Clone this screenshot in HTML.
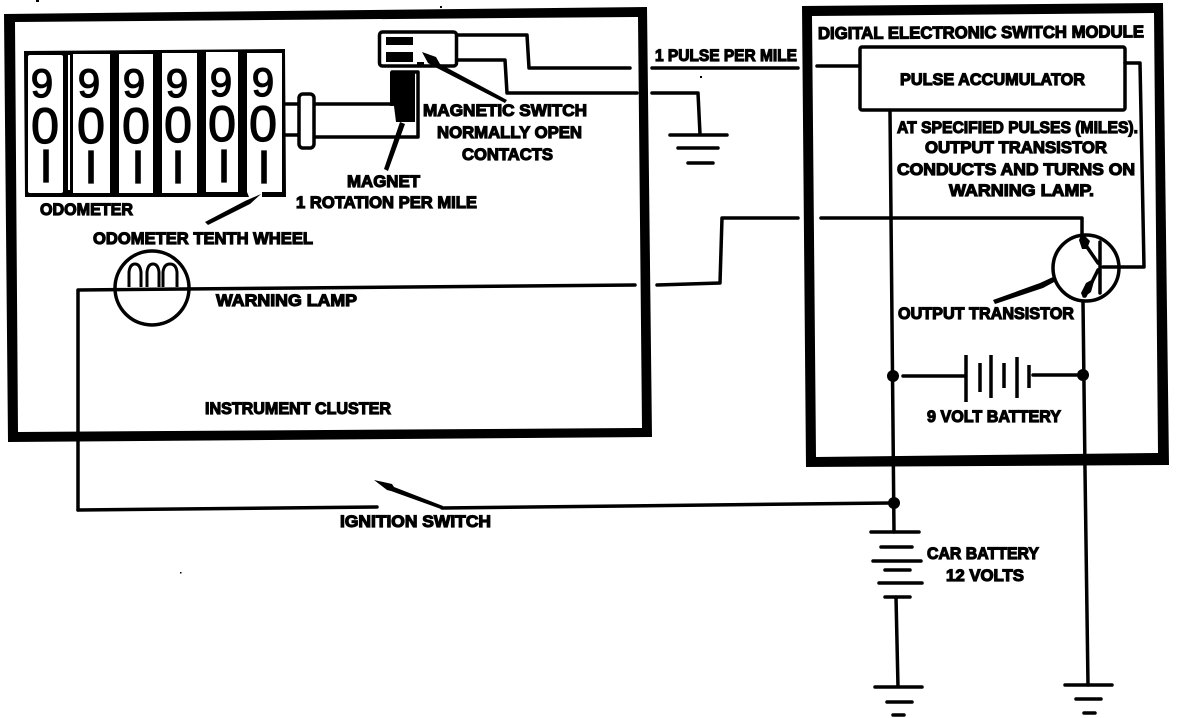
<!DOCTYPE html>
<html><head><meta charset="utf-8"><title>Digital odometer warning circuit</title>
<style>
html,body{margin:0;padding:0;background:#fff}
svg{display:block}
text{font-family:"Liberation Sans",sans-serif;font-weight:bold;fill:#000;stroke:#000;stroke-width:1.2;text-anchor:start}
.n{font-weight:normal;stroke-width:1.3;text-anchor:middle}
.w{fill:none;stroke:#000;stroke-width:3.5;stroke-linejoin:round;stroke-linecap:round}
</style></head><body>
<svg width="1184" height="718" viewBox="0 0 1184 718" xmlns="http://www.w3.org/2000/svg">
<rect width="1184" height="718" fill="#fff"/>
<!-- Frames -->
<path fill-rule="evenodd" d="M4 14L647 7L652 437L8 442ZM15 22L18 432L642 428L638 17Z"/>
<path fill-rule="evenodd" d="M802 6L1163 3L1169 465L806 467ZM812 16L816 457L1158 453L1154 13Z"/>
<!-- Odometer -->
<path d="M24 51L285 49L286 197L262 197L262 192L247 192L249 197L25 197Z"/>
<g fill="#fff">
<rect x="28" y="55" width="35" height="138" rx="2"/>
<rect x="68" y="55" width="2" height="135"/>
<rect x="73" y="54" width="37" height="139"/>
<rect x="119" y="54" width="34" height="139"/>
<rect x="162" y="53" width="35" height="140"/>
<rect x="206" y="52" width="32" height="140"/>
<rect x="247" y="53" width="35" height="139"/>
</g>
<g font-size="40">
<text class="n" x="42" y="97">9</text><text class="n" x="89" y="97">9</text><text class="n" x="134" y="97">9</text><text class="n" x="177" y="97">9</text><text class="n" x="221" y="96">9</text><text class="n" x="263" y="96">9</text>
</g>
<g font-size="50">
<text class="n" x="45" y="143">0</text><text class="n" x="91" y="143">0</text><text class="n" x="136" y="143">0</text><text class="n" x="178" y="142">0</text><text class="n" x="222" y="141">0</text><text class="n" x="263" y="141">0</text>
</g>
<g font-size="46">
<text class="n" x="46" y="182">I</text><text class="n" x="91" y="183">I</text><text class="n" x="138" y="183">I</text><text class="n" x="178" y="183">I</text><text class="n" x="224" y="182">I</text><text class="n" x="264" y="183">I</text>
</g>
<!-- Shaft, magnet, switch -->
<path class="w" d="M286 104H298M286 135H298M315 104H392M315 137H418V72H392"/>
<rect x="299" y="94" width="15" height="54" rx="4" fill="#fff" stroke="#000" stroke-width="3.5"/>
<path d="M390 72H415V122H396L394 106H390Z"/>
<rect x="379.500" y="32" width="77" height="34" rx="3" fill="#fff" stroke="#000" stroke-width="3.5"/>
<rect x="386" y="37" width="27" height="8"/><rect x="386" y="52" width="27" height="10"/>
<rect x="417" y="62" width="7" height="3"/>
<path d="M422 52L436 57L440 64L507 100L505 103L435 67L428 63Z"/>
<path class="w" d="M457 35H527L529 68H630M458 60H505L507 93H637"/>
<path class="w" d="M652 68H798M652 93H698L700 134M817 66H858"/>
<path class="w" d="M670 135H727M678 148H718M688 163H713"/>
<!-- Lamp -->
<circle cx="152" cy="288" r="37" fill="none" stroke="#000" stroke-width="3.500"/>
<path d="M129 287V272Q130 264 135 264Q140 264 141 272V287M147 287V272Q148 264 153 264Q158 264 159 272V287M163 287V272Q164 264 170 264Q176 264 177 272V287" fill="none" stroke="#000" stroke-width="3"/>
<path class="w" d="M78 510V290L635 285M657 285L720 283L722 218H798M821 218H1082V234"/>
<path class="w" d="M78 510L377 507M442 508L890 503"/>
<path d="M374 480L392 484L394 487L443 506L441 509L391 491L387 490Z"/>
<path d="M261 194L250 204L208 225L205 222L245 201Z"/>
<path d="M400 122L405 124L388 171L384 169Z"/>
<!-- Module -->
<rect x="860" y="47" width="265" height="63" rx="2" fill="#fff" stroke="#000" stroke-width="3.500"/>
<path class="w" d="M1125 63H1140L1144 267H1103"/>
<path class="w" d="M890 111L894 532M1083 302L1085 470L1088 685"/>
<circle cx="1086" cy="268" r="33" fill="none" stroke="#000" stroke-width="3.500"/>
<path class="w" d="M1100 242V293M1087 247L1098 263M1098 270L1085 296"/>
<path d="M1082 233L1090 241L1087 249L1082 249L1079 240ZM1095 278L1091 292L1083 298L1081 293L1086 283Z"/>
<path d="M993 300L1040 283L1053 277L1056 281L1043 288L995 304Z"/>
<circle cx="893" cy="376" r="6"/><circle cx="1083" cy="375" r="6"/><circle cx="894" cy="503" r="6"/>
<path class="w" d="M903 376H965M1033 375H1083"/>
<g fill="none" stroke="#000" stroke-width="3.500">
<path d="M966 355V402M980 363V392M991 355V398M1004 363V388M1017 357V398M1029 365V388"/>
</g>
<!-- Car battery and grounds -->
<path class="w" d="M871 532H919M881 547H912M873 561H921M885 570H910M879 583H922M885 597H910"/>
<path class="w" d="M896 597L898 687M875 687H922M887 702H912M893 715H904"/>
<path class="w" d="M1065 685H1112M1076 699H1101M1084 713H1095"/>
<!-- Specks -->
<rect x="36" y="0" width="3" height="2"/><rect x="440" y="6" width="2" height="2"/><rect x="700" y="76" width="2" height="2"/><rect x="180" y="572" width="1.500" height="1.500"/>
<!-- Labels -->
<g font-size="17">
<text x="40" y="215" textLength="93" lengthAdjust="spacingAndGlyphs">ODOMETER</text>
<text x="93" y="244" textLength="220" lengthAdjust="spacingAndGlyphs">ODOMETER TENTH WHEEL</text>
<text x="216" y="306" textLength="141" lengthAdjust="spacingAndGlyphs">WARNING LAMP</text>
<text x="423" y="116" textLength="164" lengthAdjust="spacingAndGlyphs">MAGNETIC SWITCH</text>
<text x="437" y="138" textLength="145" lengthAdjust="spacingAndGlyphs">NORMALLY OPEN</text>
<text x="462" y="160" textLength="91" lengthAdjust="spacingAndGlyphs">CONTACTS</text>
<text x="347" y="187" textLength="73" lengthAdjust="spacingAndGlyphs">MAGNET</text>
<text x="296" y="208" textLength="181" lengthAdjust="spacingAndGlyphs">1 ROTATION PER MILE</text>
<text x="655" y="61" textLength="142" lengthAdjust="spacingAndGlyphs">1 PULSE PER MILE</text>
<text x="818" y="39" textLength="326" lengthAdjust="spacingAndGlyphs" transform="rotate(-.3 818 39)">DIGITAL ELECTRONIC SWITCH MODULE</text>
<text x="900" y="85" textLength="185" lengthAdjust="spacingAndGlyphs">PULSE ACCUMULATOR</text>
<text x="897" y="133" textLength="241" lengthAdjust="spacingAndGlyphs">AT SPECIFIED PULSES (MILES).</text>
<text x="925" y="153" textLength="182" lengthAdjust="spacingAndGlyphs">OUTPUT TRANSISTOR</text>
<text x="897" y="175" textLength="238" lengthAdjust="spacingAndGlyphs">CONDUCTS AND TURNS ON</text>
<text x="949" y="196" textLength="145" lengthAdjust="spacingAndGlyphs">WARNING LAMP.</text>
<text x="898" y="319" textLength="176" lengthAdjust="spacingAndGlyphs">OUTPUT TRANSISTOR</text>
<text x="927" y="422" textLength="134" lengthAdjust="spacingAndGlyphs">9 VOLT BATTERY</text>
<text x="927" y="559" textLength="112" lengthAdjust="spacingAndGlyphs">CAR BATTERY</text>
<text x="946" y="581" textLength="78" lengthAdjust="spacingAndGlyphs">12 VOLTS</text>
<text x="205" y="414" textLength="186" lengthAdjust="spacingAndGlyphs">INSTRUMENT CLUSTER</text>
<text x="340" y="527" textLength="151" lengthAdjust="spacingAndGlyphs">IGNITION SWITCH</text>
</g>
</svg>
</body></html>
